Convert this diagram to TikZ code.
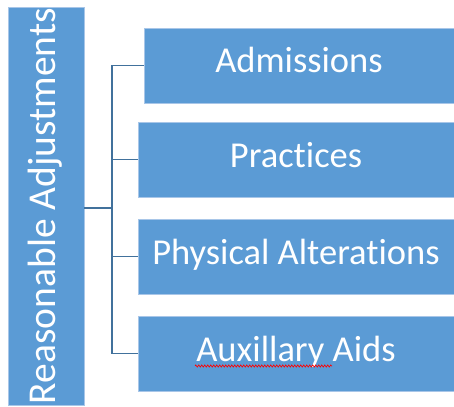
\documentclass[tikz,border=0pt]{standalone}
\usepackage{fontspec}
\setmainfont{Carlito}[Ligatures=NoCommon]
\usetikzlibrary{decorations.pathmorphing}
\definecolor{boxBlue}{HTML}{5B9BD5}
\definecolor{rimBlue}{HTML}{A8C6E8}
\definecolor{linkBlue}{HTML}{41719C}
\begin{document}
\begin{tikzpicture}
[x=1pt,y=-1pt,
box/.style={rectangle,fill=boxBlue,draw=rimBlue,line width=0.8pt,text=white,inner sep=0pt,
  minimum height=75pt,text height=25pt,text depth=10pt,font=\fontsize{36.5}{40}\selectfont},
bar/.style={box,rotate=90,minimum width=398pt,minimum height=76pt,text height=27pt,text depth=9pt,
  font=\fontsize{39.5}{42}\selectfont},
link/.style={linkBlue,line width=1.5pt},
typo/.style={red,line width=0.6pt,decorate,decoration={zigzag,amplitude=1.1pt,segment length=3pt}}]
\useasboundingbox (0,0) rectangle (454,406);
\node[bar] (bar) at (46,206) {Reasonable Adjustments};
\node[box,minimum width=310pt] (admissions) at (299,65.5) {Admissions};
\node[box,minimum width=316pt] (practices) at (296,159.5) {Practices};
\node[box,minimum width=316pt] (physical) at (296,256.5) {Physical Alterations};
\node[box,minimum width=316pt] (aids) at (296,353.5) {Auxillary Aids};
\coordinate (hub) at (112,208);
\draw[link] (bar.south |- hub) -- (hub);
\draw[link] (hub) |- (admissions);
\draw[link] (hub) |- (practices);
\draw[link] (hub) |- (physical);
\draw[link] (hub) |- (aids);
\draw[typo] (195,366) -- (332,366);
\end{tikzpicture}
\end{document}
